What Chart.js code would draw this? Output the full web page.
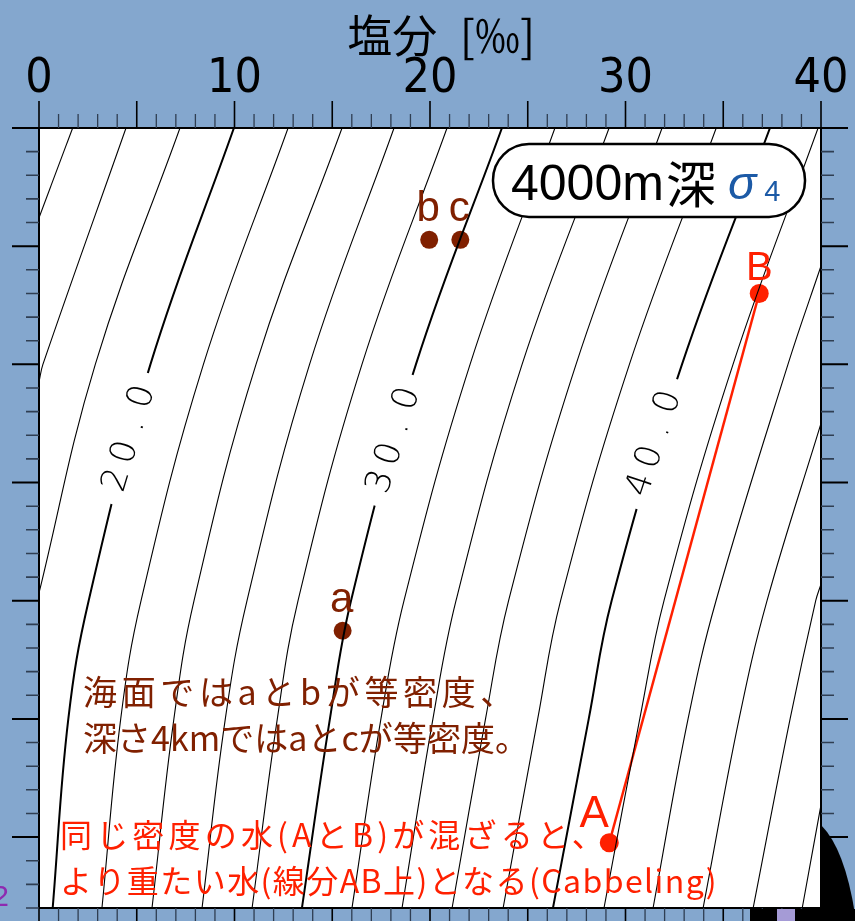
<!DOCTYPE html>
<html lang="ja">
<head>
<meta charset="utf-8">
<title>4000m深 σ4</title>
<script src="https://cdn.jsdelivr.net/npm/chart.js@4.4.1/dist/chart.umd.min.js"></script>
<style>
  html, body { margin: 0; padding: 0; background: #84a7ce; overflow: hidden; }
  #wrap { width: 855px; height: 921px; position: relative; }
</style>
</head>
<body>
<div id="wrap"><canvas id="tsChart"></canvas></div>
<script>
(() => {
  // salinity [‰], temperature pairs
  const sig14 = [[0, 26.2], [1.72, 30]];
  const sig16 = [[0, 19.25], [0.2, 20], [4.45, 30]];
  const sig18 = [[0, 10.33], [2.88, 20], [7.21, 30]];
  const sig20 = [[0.70, -3], [1.50, 5], [2.54, 10], [5.70, 20], [9.97, 30]];
  const sig22 = [[3.22, -3], [4.18, 5], [5.22, 10], [8.41, 20], [12.74, 30]];
  const sig24 = [[5.78, -3], [6.90, 5], [7.93, 10], [11.10, 20], [15.50, 30]];
  const sig26 = [[8.34, -3], [9.53, 5], [10.64, 10], [13.84, 20], [18.16, 30]];
  const sig28 = [[10.90, -3], [12.19, 5], [13.25, 10], [16.52, 20], [20.87, 30]];
  const sig30 = [[13.45, -3], [14.88, 5], [15.96, 10], [19.28, 20], [23.68, 30]];
  const sig32 = [[16.01, -3], [17.49, 5], [18.67, 10], [22.05, 20], [26.39, 30]];
  const sig34 = [[18.57, -3], [20.15, 5], [21.33, 10], [24.71, 20], [29.16, 30]];
  const sig36 = [[21.13, -3], [22.84, 5], [24.02, 10], [27.47, 20], [31.87, 30]];
  const sig38 = [[23.74, -3], [25.51, 5], [26.68, 10], [30.20, 20], [34.64, 30]];
  const sig40 = [[26.29, -3], [28.12, 5], [29.29, 10], [32.89, 20], [37.39, 30]];
  const sig42 = [[28.90, -3], [30.73, 5], [31.97, 10], [35.50, 20], [39.85, 30]];
  const sig44 = [[31.41, -3], [33.20, 5], [34.63, 10], [38.31, 20], [40, 24.16]];
  const sig46 = [[33.97, -3], [35.81, 5], [37.24, 10], [40, 17.5]];
  const sig48 = [[36.53, -3], [38.42, 5], [39.73, 10], [40, 10.7]];
  const sig50 = [[39.04, -3], [40, 1.36]];

  const contourLevels = [14, 16, 18, 20, 22, 24, 26, 28, 30, 32, 34, 36, 38, 40, 42, 44, 46, 48, 50];
  const contourPoints = [sig14, sig16, sig18, sig20, sig22, sig24, sig26, sig28, sig30, sig32,
    sig34, sig36, sig38, sig40, sig42, sig44, sig46, sig48, sig50];

  // labelled contours and where their labels sit
  const labelledLevels = [20, 30, 40];
  const labelText = ['20.0', '30.0', '40.0'];
  const labelSal = [4.65, 18.18, 31.51];
  const labelTemp = [16.86, 16.78, 16.65];

  // a, b, c: equal density pairs
  const waterNames = ['a', 'b', 'c'];
  const waterSal = [15.53, 19.96, 21.55];
  const waterTemp = [8.73, 25.27, 25.27];

  // A and B: same sigma-4, joined by the mixing line
  const mixNames = ['A', 'B'];
  const mixSal = [29.17, 36.84];
  const mixTemp = [-0.24, 23.0];

  const salTicks = [0, 10, 20, 30, 40];

  const BG = '#84a7ce';
  const BROWN = '#802000';
  const RED = '#ff2000';
  const BLUE = '#1c5aa6';
  const JP = "'Noto Sans CJK JP', sans-serif";
  const SANS = "'Liberation Sans', Arial, sans-serif";
  const NARROW = "'Liberation Sans Narrow', 'DejaVu Sans Condensed', 'Liberation Sans', sans-serif";

  const datasets = contourPoints.map((pts, i) => ({
    label: `sigma4 ${contourLevels[i]}`,
    data: pts.map(([s, t]) => ({ x: s, y: t })),
    borderColor: '#000',
    borderWidth: labelledLevels.includes(contourLevels[i]) ? 2 : 1.1,
    pointRadius: 0,
    tension: 0.4,
    fill: false,
  }));

  datasets.push({
    label: 'A-B',
    data: mixSal.map((s, i) => ({ x: s, y: mixTemp[i] })),
    borderColor: RED,
    backgroundColor: RED,
    borderWidth: 2.5,
    pointRadius: 9.5,
    pointBorderWidth: 0,
    pointBackgroundColor: RED,
    tension: 0,
    clip: false,
  });

  datasets.push({
    label: 'a b c',
    data: waterSal.map((s, i) => ({ x: s, y: waterTemp[i] })),
    showLine: false,
    pointRadius: 9,
    pointBorderWidth: 0,
    pointBackgroundColor: BROWN,
    clip: false,
  });

  function spacedText(ctx, str, x, y, width) {
    ctx.letterSpacing = '0px';
    const natural = ctx.measureText(str).width;
    const gap = (width - natural) / [...str].length;
    ctx.letterSpacing = `${gap}px`;
    ctx.fillText(str, x, y);
    ctx.letterSpacing = '0px';
  }

  function lineAngle(x, y, pts, t) {
    // direction of the contour around temperature t, from its neighbouring points
    let k = pts.findIndex((p) => p[1] > t);
    if (k < 1) k = 1;
    const seg = (a, b) => Math.atan2(
      y.getPixelForValue(b[1]) - y.getPixelForValue(a[1]),
      x.getPixelForValue(b[0]) - x.getPixelForValue(a[0]));
    const a1 = seg(pts[k - 1], pts[k]);
    const a2 = pts[k + 1] ? seg(pts[k], pts[k + 1]) : a1;
    return (a1 * 0.55 + a2 * 0.45);
  }

  const backdrop = {
    id: 'backdrop',
    beforeDraw(chart) {
      const { ctx, chartArea: area, width, height } = chart;
      ctx.save();
      ctx.fillStyle = BG;
      ctx.fillRect(0, 0, width, height);
      ctx.fillStyle = '#fff';
      ctx.fillRect(area.left, area.top, area.right - area.left, area.bottom - area.top);
      ctx.restore();
    },
  };

  const annotations = {
    id: 'annotations',
    afterDatasetsDraw(chart) {
      const { ctx, scales: { x, y } } = chart;
      ctx.save();

      // contour labels, with the line cut away underneath
      labelText.forEach((txt, i) => {
        const pts = contourPoints[contourLevels.indexOf(labelledLevels[i])];
        const cx = x.getPixelForValue(labelSal[i]);
        const cy = y.getPixelForValue(labelTemp[i]);
        const ang = lineAngle(x, y, pts, labelTemp[i]);
        ctx.save();
        ctx.translate(cx, cy);
        ctx.rotate(ang);
        ctx.fillStyle = '#fff';
        ctx.fillRect(-68, -8, 136, 16);
        ctx.fillStyle = '#000';
        ctx.font = "200 35px 'DejaVu Sans ExtraLight', 'DejaVu Sans', sans-serif";
        ctx.textAlign = 'center';
        ctx.textBaseline = 'middle';
        [...txt].forEach((ch, k) => {
          ctx.fillText(ch, (k - 1.5) * 29, 0);
        });
        ctx.restore();
      });

      // title box
      ctx.beginPath();
      ctx.roundRect(493, 144, 312, 73, 36);
      ctx.fillStyle = '#fff';
      ctx.fill();
      ctx.lineWidth = 2.5;
      ctx.strokeStyle = '#000';
      ctx.stroke();
      ctx.textBaseline = 'alphabetic';
      ctx.textAlign = 'left';
      ctx.fillStyle = '#000';
      ctx.font = `50px ${SANS}`;
      ctx.fillText('4000m', 511, 200);
      let bx = 511 + ctx.measureText('4000m').width + 2;
      ctx.font = `50px ${JP}`;
      ctx.fillText('深', bx, 203);
      bx += ctx.measureText('深').width + 12;
      ctx.fillStyle = BLUE;
      ctx.font = `italic 47px ${SANS}`;
      ctx.fillText('σ', bx, 199);
      bx += ctx.measureText('σ').width + 8;
      ctx.font = `29px ${SANS}`;
      ctx.fillText('4', bx, 201);

      // point labels
      ctx.textAlign = 'center';
      ctx.fillStyle = BROWN;
      ctx.font = `42px ${SANS}`;
      waterNames.forEach((n, i) => {
        ctx.fillText(n, x.getPixelForValue(waterSal[i]) - 1, y.getPixelForValue(waterTemp[i]) - 19);
      });
      ctx.fillStyle = RED;
      ctx.font = `44px ${SANS}`;
      ctx.fillText(mixNames[0], x.getPixelForValue(mixSal[0]) - 15, y.getPixelForValue(mixTemp[0]) - 16);
      ctx.font = `40px ${SANS}`;
      ctx.fillText(mixNames[1], x.getPixelForValue(mixSal[1]), y.getPixelForValue(mixTemp[1]) - 13);

      // notes
      ctx.textAlign = 'left';
      ctx.fillStyle = BROWN;
      ctx.font = `34px ${JP}`;
      spacedText(ctx, '海面ではaとbが等密度、', 83, 705, 436);
      spacedText(ctx, '深さ4kmではaとcが等密度。', 83, 751, 446);
      ctx.fillStyle = RED;
      ctx.font = `32px ${JP}`;
      spacedText(ctx, '同じ密度の水(AとB)が混ざると、', 60, 847, 548);
      spacedText(ctx, 'より重たい水(線分AB上)となる(Cabbeling)', 60, 893, 658);
      ctx.restore();
    },
    afterDraw(chart) {
      const { ctx, chartArea: area, scales: { x, y } } = chart;
      ctx.save();
      // tick marks on all four sides: every 1 unit, longer every 5
      for (let s = 0; s <= 40; s++) {
        const px = x.getPixelForValue(s);
        const major = s % 5 === 0;
        ctx.strokeStyle = major ? '#000' : '#2f3e52';
        ctx.lineWidth = major ? 1.6 : 1.3;
        const len = major ? 27 : 14;
        ctx.beginPath();
        ctx.moveTo(px, area.top);
        ctx.lineTo(px, area.top - len);
        ctx.moveTo(px, area.bottom);
        ctx.lineTo(px, area.bottom + len);
        ctx.stroke();
      }
      for (let t = -3; t <= 30; t++) {
        const py = y.getPixelForValue(t);
        const major = t % 5 === 0;
        ctx.strokeStyle = major ? '#000' : '#2f3e52';
        ctx.lineWidth = major ? 2 : 1.6;
        const len = major ? 27 : 13;
        ctx.beginPath();
        ctx.moveTo(area.left, py);
        ctx.lineTo(area.left - len, py);
        ctx.moveTo(area.right, py);
        ctx.lineTo(area.right + len, py);
        ctx.stroke();
      }

      // pieces of neighbouring artwork along the bottom edge
      ctx.fillStyle = '#000';
      ctx.beginPath();
      ctx.moveTo(area.right, 825);
      ctx.quadraticCurveTo(846, 850, 856, 921);
      ctx.lineTo(area.right, 921);
      ctx.closePath();
      ctx.fill();
      ctx.fillRect(750, area.bottom + 1, 27, 20);
      ctx.fillRect(795, area.bottom + 1, 60, 20);
      ctx.fillStyle = '#a59bd6';
      ctx.fillRect(777, area.bottom + 1, 18, 20);
      ctx.fillStyle = '#8e2ab0';
      ctx.font = `30px ${SANS}`;
      ctx.textAlign = 'right';
      ctx.fillText('2', 9, 906);
      ctx.restore();
    },
  };

  const hiddenAxis = (position, size) => ({
    type: 'linear',
    position,
    min: position === 'left' || position === 'right' ? -3 : 0,
    max: position === 'left' || position === 'right' ? 30 : 40,
    ticks: { display: false },
    grid: { display: false, drawTicks: false },
    border: { display: true, color: '#000', width: 2 },
    afterFit(scale) {
      if (scale.isHorizontal()) scale.height = size;
      else scale.width = size;
      scale.paddingLeft = 0;
      scale.paddingRight = 0;
      scale.paddingTop = 0;
      scale.paddingBottom = 0;
    },
  });

  new Chart(document.getElementById('tsChart'), {
    type: 'line',
    data: { datasets },
    options: {
      responsive: true,
      maintainAspectRatio: false,
      animation: false,
      events: [],
      layout: { padding: 0 },
      plugins: { legend: { display: false }, tooltip: { enabled: false } },
      scales: {
        x: {
          type: 'linear',
          position: 'top',
          min: 0,
          max: 40,
          afterBuildTicks(scale) {
            scale.ticks = salTicks.map((v) => ({ value: v }));
          },
          ticks: {
            color: '#000',
            padding: 20,
            maxRotation: 0,
            autoSkip: false,
            font: { family: NARROW, size: 48 },
          },
          grid: { display: false, drawTicks: false },
          border: { display: true, color: '#000', width: 2 },
          title: {
            display: true,
            text: '\u2002塩分\u2002[‰]',
            color: '#000',
            font: { family: JP, size: 45 },
            padding: { top: 9, bottom: 0 },
          },
          afterFit(scale) {
            scale.height = 128;
            scale.paddingLeft = 0;
            scale.paddingRight = 0;
          },
        },
        x2: hiddenAxis('bottom', 13),
        y: hiddenAxis('left', 39),
        y2: hiddenAxis('right', 34),
      },
    },
    plugins: [backdrop, annotations],
  });
})();
</script>
</body>
</html>
